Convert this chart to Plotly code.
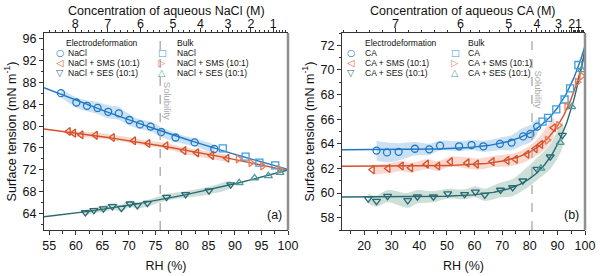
import numpy as np
import plotly.graph_objects as go

FONT = "Liberation Sans, Arial, sans-serif"
GLYPH_FONT = "DejaVu Sans"

# ---------------- Panel (a): NaCl ----------------
nacl_rh = [57.2, 60.1, 62.1, 64.1, 66.1, 68.1, 70.1, 72.1, 74.1, 76.1, 78.8, 82.4, 86.1]
nacl_st = [86.0, 84.3, 83.7, 83.3, 82.6, 82.3, 81.1, 80.3, 79.9, 78.9, 77.9, 77.0, 75.8]
nacl_err = [0.8, 0.9, 1.0, 1.1, 1.2, 1.2, 1.0, 0.9, 0.9, 0.9, 0.8, 0.7, 0.6]
nacl_bulk_rh = [87.7, 92.0, 94.6, 97.6]
nacl_bulk_st = [75.9, 74.4, 73.3, 72.8]

nacl_sms_rh = [58.6, 59.6, 61.0, 63.7, 66.9, 70.9, 73.6, 77.0, 80.4, 82.8, 85.6, 88.5]
nacl_sms_st = [79.0, 78.7, 78.4, 78.3, 77.9, 77.3, 76.8, 76.4, 75.5, 75.1, 74.6, 74.1]
nacl_sms_err = [0.5, 0.5, 0.5, 0.5, 0.5, 0.5, 0.5, 0.5, 0.6, 0.6, 0.6, 0.5]
nacl_sms_bulk_rh = [90.6, 93.0, 95.2, 98.4]
nacl_sms_bulk_st = [74.0, 73.3, 72.7, 72.1]

nacl_ses_rh = [61.8, 63.4, 65.2, 66.9, 68.6, 70.2, 71.6, 73.5, 77.1, 80.7, 85.1, 89.2]
nacl_ses_st = [64.2, 64.6, 64.9, 65.3, 65.0, 65.8, 65.5, 65.9, 67.0, 67.5, 68.2, 69.3]
nacl_ses_err = [0.5, 0.5, 0.6, 0.6, 0.6, 0.6, 0.6, 0.6, 0.6, 0.6, 0.7, 0.6]
nacl_ses_bulk_rh = [90.8, 93.7, 96.3, 98.5]
nacl_ses_bulk_st = [69.6, 70.5, 70.9, 71.5]

nacl_conc_labels = ["8", "7", "6", "5", "4", "3", "2", "1"]
nacl_conc_vals = [8, 7, 6, 5, 4, 3, 2, 1]
nacl_conc_rh = [59.9, 66.0, 72.2, 78.3, 83.5, 88.7, 93.0, 97.2]
nacl_solubility_rh = 75.9

# ---------------- Panel (b): CA ----------------
ca_rh = [24.5, 28.3, 32.5, 38.4, 43.6, 47.5, 54.4, 58.9, 63.2, 69.2, 73.4, 77.6, 80.2, 82.7]
ca_st = [63.45, 63.3, 63.35, 63.6, 63.55, 63.85, 63.8, 63.9, 63.8, 64.0, 64.1, 64.6, 64.8, 65.4]
ca_err = [0.8, 0.8, 0.7, 0.55, 0.45, 0.4, 0.4, 0.4, 0.45, 0.5, 0.6, 0.7, 0.7, 0.6]
ca_bulk_rh = [84.6, 86.6, 89.6, 92.6, 94.6, 97.6]
ca_bulk_st = [65.8, 66.1, 66.8, 67.6, 68.5, 70.4]

ca_sms_rh = [23.0, 28.7, 33.5, 36.9, 42.6, 46.7, 51.3, 57.3, 60.7, 66.4, 71.8, 74.8, 79.0, 82.0, 84.0, 88.6]
ca_sms_st = [61.9, 62.0, 62.2, 62.05, 62.35, 62.2, 62.55, 62.45, 62.35, 62.55, 62.65, 62.75, 63.15, 63.6, 63.95, 65.3]
ca_sms_err = [0.4, 0.4, 0.4, 0.4, 0.4, 0.4, 0.4, 0.45, 0.45, 0.45, 0.5, 0.5, 0.55, 0.6, 0.7, 0.8]
ca_sms_bulk_rh = [86.3, 90.4, 93.4, 97.2, 98.8]
ca_sms_bulk_st = [64.3, 65.5, 67.0, 69.0, 69.5]

ca_ses_rh = [21.5, 24.5, 28.5, 35.8, 39.3, 45.1, 50.3, 56.4, 60.3, 63.7, 69.4, 73.8, 77.5, 82.6, 87.4, 91.8]
ca_ses_st = [59.55, 59.35, 59.75, 59.4, 59.7, 59.7, 59.95, 59.9, 60.1, 59.85, 60.25, 60.45, 61.0, 61.95, 62.95, 64.7]
ca_ses_err = [0.4, 0.45, 0.5, 0.6, 0.55, 0.45, 0.4, 0.4, 0.45, 0.5, 0.6, 0.7, 0.8, 0.9, 1.0, 1.0]
ca_ses_bulk_rh = [84.0, 91.0, 95.2, 98.8]
ca_ses_bulk_st = [62.0, 64.1, 67.0, 70.0]

ca_conc_labels = ["7", "6", "5", "4", "3", "2", "1"]
ca_conc_vals = [7, 6, 5, 4, 3, 2, 1]
ca_conc_rh = [31.4, 54.9, 72.4, 82.6, 90.4, 95.2, 97.6]
ca_solubility_rh = 80.8

WATER_RH = 100.0
WATER_ST = 72.0

# ---------------- styles ----------------
BLUE, BLUE_L, BLUE_F = "#1f78c4", "#3d9de0", "rgba(80,155,215,0.30)"
RED, RED_L, RED_F = "#d6502a", "#ec7c58", "rgba(232,125,95,0.30)"
TEAL, TEAL_L, TEAL_F = "#2a6a73", "#4f9a9c", "rgba(95,155,135,0.32)"
AX = "#333333"

fig = go.Figure()


def add_band(rh, st, err, color, xa, ya):
    rh = np.asarray(rh, float)
    st = np.asarray(st, float)
    err = np.asarray(err, float)
    x = np.concatenate([rh, rh[::-1]])
    y = np.concatenate([st + err, (st - err)[::-1]])
    fig.add_trace(go.Scatter(x=x, y=y, mode="lines", fill="toself", fillcolor=color,
                             line=dict(width=0, shape="spline", smoothing=0.9),
                             hoverinfo="skip", showlegend=False, xaxis=xa, yaxis=ya))


def add_pts(rh, st, symbol, color, xa, ya):
    fig.add_trace(go.Scatter(x=rh, y=st, mode="markers",
                             marker=dict(symbol=symbol, size=7, color=color,
                                         line=dict(width=1.3, color=color)),
                             showlegend=False, xaxis=xa, yaxis=ya))


def poly_line(rh_lists, st_lists, lo, color, xa, ya):
    rh = np.concatenate([np.asarray(r, float) for r in rh_lists] + [[WATER_RH]])
    st = np.concatenate([np.asarray(s, float) for s in st_lists] + [[WATER_ST]])
    c = np.polyfit(rh, st, 2)
    xx = np.linspace(lo, WATER_RH, 200)
    fig.add_trace(go.Scatter(x=xx, y=np.polyval(c, xx), mode="lines",
                             line=dict(color=color, width=1.4), hoverinfo="skip",
                             showlegend=False, xaxis=xa, yaxis=ya))


def exp_line(rh_lists, st_lists, lo, color, xa, ya):
    rh = np.concatenate([np.asarray(r, float) for r in rh_lists] + [[WATER_RH]])
    st = np.concatenate([np.asarray(s, float) for s in st_lists] + [[WATER_ST]])
    best = None
    for k in np.linspace(0.03, 0.3, 271):
        A = np.column_stack([np.ones_like(rh), np.exp(k * (rh - WATER_RH))])
        coef = np.linalg.lstsq(A, st, rcond=None)[0]
        sse = float(np.sum((A @ coef - st) ** 2))
        if best is None or sse < best[0]:
            best = (sse, coef, k)
    _, (a, b), k = best
    xx = np.linspace(lo, WATER_RH, 300)
    fig.add_trace(go.Scatter(x=xx, y=a + b * np.exp(k * (xx - WATER_RH)), mode="lines",
                             line=dict(color=color, width=1.4), hoverinfo="skip",
                             showlegend=False, xaxis=xa, yaxis=ya))


# panel a
XA_RANGE = [54, 100]
XB_RANGE = [12, 100]
add_band(nacl_rh, nacl_st, nacl_err, BLUE_F, "x", "y")
add_band(nacl_sms_rh, nacl_sms_st, nacl_sms_err, RED_F, "x", "y")
add_band(nacl_ses_rh, nacl_ses_st, nacl_ses_err, TEAL_F, "x", "y")
poly_line([nacl_rh, nacl_bulk_rh], [nacl_st, nacl_bulk_st], XA_RANGE[0], BLUE, "x", "y")
poly_line([nacl_sms_rh, nacl_sms_bulk_rh], [nacl_sms_st, nacl_sms_bulk_st], XA_RANGE[0], RED, "x", "y")
poly_line([nacl_ses_rh, nacl_ses_bulk_rh], [nacl_ses_st, nacl_ses_bulk_st], XA_RANGE[0], TEAL, "x", "y")
add_pts(nacl_rh, nacl_st, "circle-open", BLUE, "x", "y")
add_pts(nacl_bulk_rh, nacl_bulk_st, "square-open", BLUE_L, "x", "y")
add_pts(nacl_sms_rh, nacl_sms_st, "triangle-left-open", RED, "x", "y")
add_pts(nacl_sms_bulk_rh, nacl_sms_bulk_st, "triangle-right-open", RED_L, "x", "y")
add_pts(nacl_ses_rh, nacl_ses_st, "triangle-down-open", TEAL, "x", "y")
add_pts(nacl_ses_bulk_rh, nacl_ses_bulk_st, "triangle-up-open", TEAL_L, "x", "y")

# panel b
add_band(ca_rh, ca_st, ca_err, BLUE_F, "x2", "y2")
add_band(ca_sms_rh, ca_sms_st, ca_sms_err, RED_F, "x2", "y2")
add_band(ca_ses_rh, ca_ses_st, ca_ses_err, TEAL_F, "x2", "y2")
exp_line([ca_rh, ca_bulk_rh], [ca_st, ca_bulk_st], XB_RANGE[0], BLUE, "x2", "y2")
exp_line([ca_sms_rh, ca_sms_bulk_rh], [ca_sms_st, ca_sms_bulk_st], XB_RANGE[0], RED, "x2", "y2")
exp_line([ca_ses_rh, ca_ses_bulk_rh], [ca_ses_st, ca_ses_bulk_st], XB_RANGE[0], TEAL, "x2", "y2")
add_pts(ca_rh, ca_st, "circle-open", BLUE, "x2", "y2")
add_pts(ca_bulk_rh, ca_bulk_st, "square-open", BLUE_L, "x2", "y2")
add_pts(ca_sms_rh, ca_sms_st, "triangle-left-open", RED, "x2", "y2")
add_pts(ca_sms_bulk_rh, ca_sms_bulk_st, "triangle-right-open", RED_L, "x2", "y2")
add_pts(ca_ses_rh, ca_ses_st, "triangle-down-open", TEAL, "x2", "y2")
add_pts(ca_ses_bulk_rh, ca_ses_bulk_st, "triangle-up-open", TEAL_L, "x2", "y2")


def minor_conc_ticks(vals, rhs, cmax, slope_extra):
    v = list(vals) + [0]
    r = list(rhs) + [WATER_RH]
    v = [v[0] + 1] + v
    r = [r[0] - slope_extra] + r
    order = np.argsort(v)
    v = np.asarray(v, float)[order]
    r = np.asarray(r, float)[order]
    cs = np.round(np.arange(0.2, cmax, 0.2), 2)
    cs = [c for c in cs if abs(c - round(c)) > 1e-6]
    return list(np.interp(cs, v, r))


nacl_minor = minor_conc_ticks(nacl_conc_vals, nacl_conc_rh, 9.0, 6.1)
ca_minor = minor_conc_ticks(ca_conc_vals, ca_conc_rh, 8.0, 23.5)

TF = dict(family=FONT, size=12.5, color="#111")
common_x = dict(showline=True, linecolor=AX, linewidth=1, ticks="outside", ticklen=4,
                tickcolor=AX, showgrid=False, zeroline=False, tickfont=TF,
                title_font=TF, automargin=False, tickangle=0)
common_y = dict(showline=True, linecolor=AX, linewidth=1, ticks="outside", ticklen=4,
                tickcolor=AX, showgrid=False, zeroline=False, tickfont=TF,
                title_font=TF, automargin=False)

DA = [44 / 600, 288 / 600]
DB = [342 / 600, 585 / 600]
DY = [46 / 276, 243 / 276]

fig.update_layout(
    width=600, height=276, margin=dict(l=0, r=0, t=0, b=0, autoexpand=False),
    paper_bgcolor="white", plot_bgcolor="white", showlegend=False,
    font=dict(family=FONT, size=12.5, color="#111"),
    xaxis=dict(domain=DA, range=XA_RANGE, anchor="y", tick0=55, dtick=5,
               minor=dict(dtick=2.5, tick0=55, ticks="outside", ticklen=2.5, tickcolor=AX),
               title=dict(text="RH (%)", standoff=9), **common_x),
    yaxis=dict(domain=DY, range=[61, 97], anchor="x", tick0=64, dtick=4,
               minor=dict(dtick=2, tick0=64, ticks="outside", ticklen=2.5, tickcolor=AX),
               title=dict(text="Surface tension (mN m<sup>-1</sup>)", standoff=3), **common_y),
    xaxis3=dict(overlaying="x", anchor="y", side="top", range=XA_RANGE,
                tickmode="array", tickvals=nacl_conc_rh, ticktext=nacl_conc_labels,
                ticklabelstandoff=-5,
                minor=dict(tickmode="array", tickvals=nacl_minor, ticks="outside",
                           ticklen=2.5, tickcolor=AX), **common_x),
    xaxis2=dict(domain=DB, range=XB_RANGE, anchor="y2", tick0=20, dtick=10,
                minor=dict(dtick=5, tick0=15, ticks="outside", ticklen=2.5, tickcolor=AX),
                title=dict(text="RH (%)", standoff=9), **common_x),
    yaxis2=dict(domain=DY, range=[57, 73], anchor="x2", tick0=58, dtick=2,
                minor=dict(dtick=1, tick0=58, ticks="outside", ticklen=2.5, tickcolor=AX),
                title=dict(text="Surface tension (mN m<sup>-1</sup>)", standoff=3), **common_y),
    xaxis4=dict(overlaying="x2", anchor="y2", side="top", range=XB_RANGE,
                tickmode="array", tickvals=ca_conc_rh, ticktext=ca_conc_labels,
                ticklabelstandoff=-5,
                minor=dict(tickmode="array", tickvals=ca_minor, ticks="outside",
                           ticklen=2.5, tickcolor=AX), **common_x),
)

# keep top axes drawn
fig.add_trace(go.Scatter(x=nacl_conc_rh, y=[None] * len(nacl_conc_rh), xaxis="x3", yaxis="y",
                         mode="markers", showlegend=False, hoverinfo="skip"))
fig.add_trace(go.Scatter(x=ca_conc_rh, y=[None] * len(ca_conc_rh), xaxis="x4", yaxis="y2",
                         mode="markers", showlegend=False, hoverinfo="skip"))

# top axis titles
fig.add_annotation(x=0.5, xref="x domain", y=1 - 10.5 / 276, yref="paper",
                   text="Concentration of aqueous NaCl (M)", showarrow=False,
                   xanchor="center", yanchor="middle", font=TF)
fig.add_annotation(x=0.5, xref="x2 domain", y=1 - 10.5 / 276, yref="paper",
                   text="Concentration of aqueous CA (M)", showarrow=False,
                   xanchor="center", yanchor="middle", font=TF)

# right frame edges, solubility lines
for xd, yd in [("x domain", "y domain"), ("x2 domain", "y2 domain")]:
    fig.add_shape(type="line", xref=xd, yref=yd, x0=1, x1=1, y0=0, y1=1,
                  line=dict(color="#8f8f8f", width=2.5))
fig.add_shape(type="line", xref="x", yref="y domain", x0=nacl_solubility_rh, x1=nacl_solubility_rh,
              y0=0, y1=1, line=dict(color="#a0a0a0", width=1.2, dash="dash"))
fig.add_shape(type="line", xref="x2", yref="y2 domain", x0=ca_solubility_rh, x1=ca_solubility_rh,
              y0=0, y1=1, line=dict(color="#a0a0a0", width=1.2, dash="dash"))

fig.add_annotation(x=nacl_solubility_rh, xref="x", y=0.655, yref="y domain", text="Solubility",
                   textangle=90, showarrow=False, xshift=7,
                   font=dict(family=FONT, size=9.5, color="#a8a8a8"))
fig.add_annotation(x=ca_solubility_rh, xref="x2", y=0.82, yref="y2 domain", text="Solubility",
                   textangle=90, showarrow=False, xshift=7,
                   font=dict(family=FONT, size=9.5, color="#a8a8a8"))

fig.add_annotation(x=0.985, xref="x domain", y=0.03, yref="y domain", text="(a)",
                   xanchor="right", yanchor="bottom", showarrow=False, font=TF)
fig.add_annotation(x=0.985, xref="x2 domain", y=0.03, yref="y2 domain", text="(b)",
                   xanchor="right", yanchor="bottom", showarrow=False, font=TF)

# custom legends
LF = dict(family=FONT, size=8.5, color="#111")


def legend_block(title, title_px, glyph_px, text_px, rows):
    fig.add_annotation(x=title_px / 600, y=1 - 42.5 / 276, xref="paper", yref="paper",
                       text=title, showarrow=False, xanchor="left", yanchor="middle", font=LF)
    for i, (glyph, color, label) in enumerate(rows):
        py = 52.7 + 10 * i
        fig.add_annotation(x=glyph_px / 600, y=1 - py / 276, xref="paper", yref="paper",
                           text=glyph, showarrow=False, xanchor="center", yanchor="middle",
                           font=dict(family=GLYPH_FONT, size=9.5, color=color))
        fig.add_annotation(x=text_px / 600, y=1 - py / 276, xref="paper", yref="paper",
                           text=label, showarrow=False, xanchor="left", yanchor="middle", font=LF)


legend_block("Electrodeformation", 64, 60, 66,
             [("\u25CB", BLUE, "NaCl"), ("\u25C1", RED, "NaCl + SMS (10:1)"),
              ("\u25BD", TEAL, "NaCl + SES (10:1)")])
legend_block("Bulk", 175, 162, 175,
             [("\u25A1", BLUE_L, "NaCl"), ("\u25B7", RED_L, "NaCl + SMS (10:1)"),
              ("\u25B3", TEAL_L, "NaCl + SES (10:1)")])
legend_block("Electrodeformation", 363, 351, 363,
             [("\u25CB", BLUE, "CA"), ("\u25C1", RED, "CA + SMS (10:1)"),
              ("\u25BD", TEAL, "CA + SES (10:1)")])
legend_block("Bulk", 466, 455, 466,
             [("\u25A1", BLUE_L, "CA"), ("\u25B7", RED_L, "CA + SMS (10:1)"),
              ("\u25B3", TEAL_L, "CA + SES (10:1)")])

fig.write_html("out.html", config={"displayModeBar": False},
               post_script="document.body.style.margin='0px';document.body.style.overflow='hidden';")
